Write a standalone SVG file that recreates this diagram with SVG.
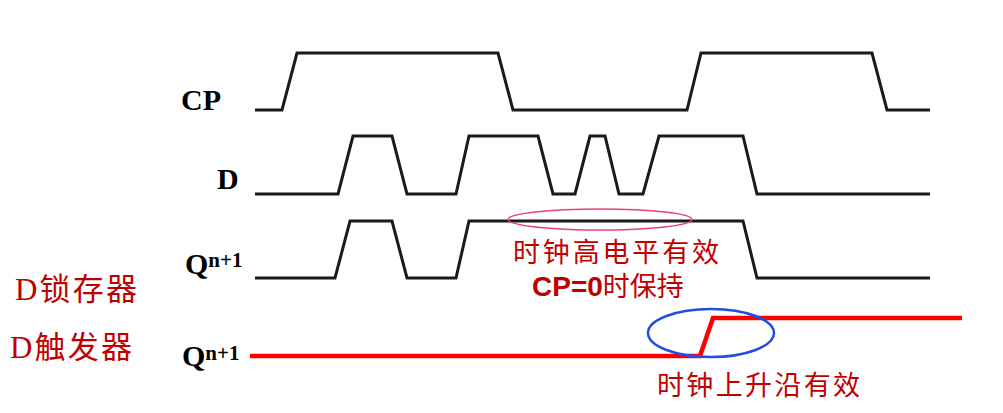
<svg xmlns="http://www.w3.org/2000/svg" width="1003" height="413" viewBox="0 0 1003 413">
<style>
.wave{fill:none;stroke:#1a1a1a;stroke-width:3;stroke-linejoin:miter}
.red{fill:none;stroke:#ff0000;stroke-width:4.5}
.sig{font-family:"Liberation Serif",serif;font-weight:bold;font-size:30px;fill:#000}
.sup{font-size:21px}
.note{font-family:"Noto Sans CJK SC",sans-serif;font-size:27px;fill:#c00000}
.lbl{font-family:"Liberation Serif","Noto Sans CJK SC",serif;font-size:31px;fill:#c00000}
</style>
<rect width="1003" height="413" fill="#fff"/>
<g id="labels">
<text class="sig" x="181" y="110">CP</text>
<text class="sig" x="217" y="189">D</text>
<text class="sig" x="185" y="274">Q<tspan class="sup" dy="-7">n+1</tspan></text>
<text class="sig" x="182" y="366">Q<tspan class="sup" dy="-6">n+1</tspan></text>
<text class="lbl" x="15" y="300" textLength="122" lengthAdjust="spacing">D锁存器</text>
<text class="lbl" x="10" y="358" textLength="122" lengthAdjust="spacing">D触发器</text>
</g>
<g id="waveforms">
<path id="cp" class="wave" d="M255,110 H282 L297,53 H498 L513,110 H687 L701,53 H872 L887,110 H930"/>
<path id="d" class="wave" d="M255,194 H338 L353,136 H392 L407,194 H456 L469,136 H538 L553,194 H575 L590,136 H605 L619,194 H643 L659,136 H743 L757,194 H930"/>
<path id="q-latch" class="wave" d="M255,278 H335 L350,221 H392 L407,278 H456 L469,221 H743 L757,278 H930"/>
<path id="q-ff" class="red" d="M250,356 H700 L713,318 H962"/>
</g>
<g id="annotations">
<ellipse cx="600" cy="219.5" rx="92" ry="10.5" fill="none" stroke="#e8407f" stroke-width="1.5"/>
<ellipse cx="711" cy="333" rx="63" ry="24" fill="none" stroke="#1f4fe0" stroke-width="2.5"/>
<text class="note" x="513" y="262" textLength="206" lengthAdjust="spacing">时钟高电平有效</text>
<text class="note" x="532" y="296"><tspan font-family="'Liberation Sans',sans-serif" font-weight="bold" font-size="28px">CP=0</tspan>时保持</text>
<text class="note" x="657" y="395" textLength="203" lengthAdjust="spacing">时钟上升沿有效</text>
</g>
</svg>
